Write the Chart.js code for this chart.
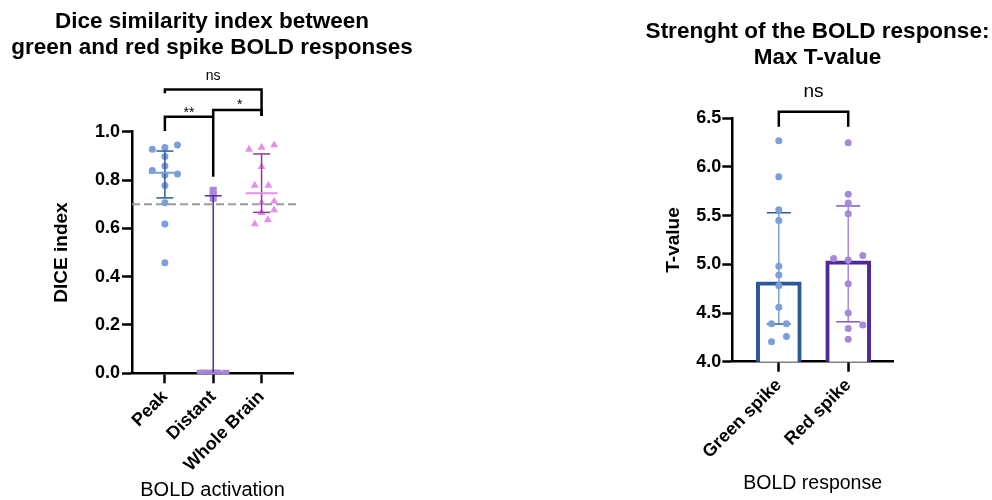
<!DOCTYPE html>
<html>
<head>
<meta charset="utf-8">
<script src="https://cdn.jsdelivr.net/npm/chart.js@4.4.1/dist/chart.umd.min.js"></script>
<style>
  body { margin: 0; background: #fff; }
  #wrap { position: relative; width: 992px; height: 500px; }
  #diceBox { position: absolute; left: 0; top: 0; width: 424px; height: 500px; }
  #tBox { position: absolute; left: 643px; top: 0; width: 349px; height: 500px; }
</style>
</head>
<body>
<div id="wrap">
  <div id="diceBox"><canvas id="diceChart" width="424" height="500"></canvas></div>
  <div id="tBox"><canvas id="tChart" width="349" height="500"></canvas></div>
</div>
<script>
// ---- left panel: DICE index ----
const diceCategories = ['Peak', 'Distant', 'Whole Brain'];
const dicePeak = [0.927, 0.935, 0.945, 0.897, 0.858, 0.839, 0.821, 0.825, 0.777, 0.706, 0.618, 0.458];
const dicePeakJitter = [-0.26, 0, 0.26, 0, 0, -0.26, 0, 0.26, 0, 0, 0, 0];
const diceDistant = [0.758, 0.74, 0.725, 0, 0, 0, 0, 0, 0, 0, 0, 0];
const diceDistantJitter = [0, 0, 0, -0.27, -0.23, -0.19, -0.10, -0.02, 0.02, 0.06, 0.10, 0.26];
const diceWhole = [0.927, 0.935, 0.945, 0.855, 0.778, 0.778, 0.706, 0.712, 0.665, 0.676, 0.635, 0.618];
const diceWholeJitter = [-0.26, 0, 0.26, 0, -0.14, 0.14, 0, 0.26, 0, 0.26, 0.13, -0.14];
const diceMedian = [0.830, 0, 0.745];
const diceQ1 = [0.726, 0, 0.666];
const diceQ3 = [0.920, 0.735, 0.908];
const diceThreshold = 0.7;

// ---- right panel: max T-value ----
const tCategories = ['Green spike', 'Red spike'];
const tGreen = [6.27, 5.90, 5.56, 5.45, 4.98, 4.89, 4.78, 4.56, 4.39, 4.39, 4.205, 4.26];
const tGreenJitter = [0, 0, 0, 0, 0, 0, 0, 0, -0.105, 0.11, -0.105, 0.11];
const tRed = [6.25, 5.72, 5.63, 5.52, 5.06, 5.044, 5.09, 4.80, 4.50, 4.34, 4.376, 4.23];
const tRedJitter = [0, 0, 0, 0, -0.21, 0, 0.21, 0, 0, 0, 0.21, 0];
const tMedian = [4.821, 5.037];
const tQ1 = [4.387, 4.41];
const tQ3 = [5.53, 5.60];

const BLUE = '#7c9fd9', BLUE_DARK = '#2d5a9e';
const PURPLE = '#a689d9', PURPLE_DARK = '#5b2d94';
const PINK = '#e68fe8', MAGENTA = '#97359a';

Chart.defaults.font.family = '"Liberation Sans", Arial, sans-serif';
Chart.defaults.color = '#000';

const toPoints = (vals, jitter, cat) => vals.map((v, i) => ({ x: cat + jitter[i], y: v }));

// median + interquartile range, plus optional horizontal dashed reference
const statsPlugin = {
    id: 'stats',
    beforeDatasetsDraw(chart, args, o) {
        if (o.refLine == null) return;
        const { ctx, chartArea, scales: { y } } = chart;
        const py = y.getPixelForValue(o.refLine);
        ctx.save();
        ctx.strokeStyle = '#9a9a9a';
        ctx.lineWidth = 2;
        ctx.setLineDash([8, 4]);
        ctx.beginPath();
        ctx.moveTo(chartArea.left, py);
        ctx.lineTo(chartArea.right + 3, py);
        ctx.stroke();
        ctx.restore();
    },
    afterDatasetDraw(chart, args, o) {
        if (args.index !== o.afterIndex) return;
        const { ctx, scales: { x, y } } = chart;
        ctx.save();
        o.median.forEach((m, i) => {
            const px = x.getPixelForValue(i);
            ctx.lineWidth = 1.5;
            ctx.strokeStyle = o.lineColors[i];
            ctx.beginPath();
            ctx.moveTo(px, y.getPixelForValue(o.q1[i]));
            ctx.lineTo(px, y.getPixelForValue(o.q3[i]));
            ctx.stroke();
            ctx.strokeStyle = o.capColors[i];
            [o.q1[i], o.q3[i]].forEach(v => {
                const py = y.getPixelForValue(v);
                ctx.beginPath();
                ctx.moveTo(px - o.capWidth / 2, py);
                ctx.lineTo(px + o.capWidth / 2, py);
                ctx.stroke();
            });
            if (o.medianWidth) {
                const py = y.getPixelForValue(m);
                ctx.lineWidth = 2;
                ctx.strokeStyle = o.medianColors[i];
                ctx.beginPath();
                ctx.moveTo(px - o.medianWidth / 2, py);
                ctx.lineTo(px + o.medianWidth / 2, py);
                ctx.stroke();
            }
        });
        ctx.restore();
    },
    afterDraw(chart, args, o) {
        const { ctx, scales: { x, y } } = chart;
        ctx.save();
        ctx.strokeStyle = '#000';
        ctx.lineWidth = 2.5;
        ctx.lineJoin = 'miter';
        (o.brackets || []).forEach(b => {
            ctx.beginPath();
            b.pts.forEach((p, k) => {
                const px = x.getPixelForValue(p[0]), py = y.getPixelForValue(p[1]);
                k ? ctx.lineTo(px, py) : ctx.moveTo(px, py);
            });
            ctx.stroke();
            ctx.fillStyle = '#000';
            ctx.font = b.size + 'px "Liberation Sans", Arial, sans-serif';
            ctx.textAlign = 'center';
            ctx.textBaseline = 'middle';
            ctx.fillText(b.label, x.getPixelForValue(b.lx), y.getPixelForValue(b.ly));
        });
        ctx.restore();
    }
};

function axisStyle(extra) {
    return Object.assign({
        grid: { drawOnChartArea: false, offset: false, tickLength: 10, tickWidth: 2.5, tickColor: '#000' },
        border: { color: '#000', width: 2.5 }
    }, extra);
}

// empty right-hand axis, only keeps room so the title centres like the original
function spacer(w) {
    return {
        position: 'right',
        grid: { display: false, drawTicks: false },
        border: { display: false },
        ticks: { display: false },
        afterFit: s => { s.width = w; }
    };
}

new Chart(document.getElementById('diceChart'), {
    type: 'scatter',
    data: {
        datasets: [
            { label: 'Peak', data: toPoints(dicePeak, dicePeakJitter, 0), pointStyle: 'circle', pointRadius: 3.5, backgroundColor: BLUE, borderWidth: 0, yAxisID: 'y' },
            { label: 'Distant', data: toPoints(diceDistant, diceDistantJitter, 1), pointStyle: 'rect', pointRadius: 5, backgroundColor: PURPLE, borderWidth: 0, yAxisID: 'y' },
            { label: 'Whole Brain', data: toPoints(diceWhole, diceWholeJitter, 2), pointStyle: 'triangle', pointRadius: 4.6, backgroundColor: PINK, borderWidth: 0, yAxisID: 'y' }
        ]
    },
    options: {
        responsive: false,
        animation: false,
        layout: { padding: 0 },
        plugins: {
            legend: { display: false },
            tooltip: { enabled: false },
            title: {
                display: true,
                text: ['Dice similarity index between', 'green and red spike BOLD responses'],
                font: { size: 22.5, weight: 'bold', lineHeight: 1.156 },
                color: '#000',
                padding: { top: 9, bottom: 70.7 }
            },
            stats: {
                refLine: diceThreshold,
                afterIndex: 0,
                median: diceMedian, q1: diceQ1, q3: diceQ3,
                capWidth: 17, medianWidth: 32,
                lineColors: [BLUE_DARK, PURPLE_DARK, MAGENTA],
                capColors: [BLUE_DARK, PURPLE_DARK, MAGENTA],
                medianColors: [BLUE, PURPLE, PINK],
                brackets: [
                    { pts: [[0, 1.159], [0, 1.175], [2, 1.175], [2, 1.065]], label: 'ns', lx: 1, ly: 1.232, size: 14 },
                    { pts: [[1, 0.814], [1, 1.090], [2, 1.090], [2, 1.065]], label: '*', lx: 1.55, ly: 1.112, size: 14 },
                    { pts: [[0, 1.003], [0, 1.062], [1, 1.062]], label: '**', lx: 0.5, ly: 1.077, size: 14 }
                ]
            }
        },
        scales: {
            x: axisStyle({
                type: 'linear',
                offset: false,
                min: -0.68,
                max: 2.65,
                afterBuildTicks: s => { s.ticks = diceCategories.map((c, i) => ({ value: i })); },
                afterFit: s => { s.height = 126.7; },
                ticks: {
                    callback: v => diceCategories[v],
                    font: { size: 18, weight: 'bold' },
                    color: '#000',
                    minRotation: 45,
                    maxRotation: 45,
                    autoSkip: false,
                    padding: 3
                },
                title: { display: true, text: 'BOLD activation', font: { size: 20, lineHeight: 1 }, color: '#000', padding: { top: 0, bottom: 0 } }
            }),
            y: axisStyle({
                min: 0,
                max: 1,
                afterFit: s => { s.width = 132; },
                ticks: { stepSize: 0.2, callback: v => v.toFixed(1), font: { size: 18, weight: 'bold' }, color: '#000', padding: 2 },
                title: { display: true, text: 'DICE index', font: { size: 19, weight: 'bold', lineHeight: 1.2 }, color: '#000', padding: { top: 50.6, bottom: 0 } }
            }),
            y2: spacer(131)
        }
    },
    plugins: [statsPlugin]
});

new Chart(document.getElementById('tChart'), {
    type: 'scatter',
    data: {
        datasets: [
            {
                type: 'bar', label: 'Median', order: 2, yAxisID: 'y',
                data: tMedian.map((v, i) => ({ x: i, y: v })),
                backgroundColor: '#fff',
                borderColor: ['#2c579b', '#4e2a92'],
                borderWidth: 4,
                barThickness: 45,
                grouped: false
            },
            { label: 'Green spike', order: 1, yAxisID: 'y', data: toPoints(tGreen, tGreenJitter, 0), pointRadius: 3.5, backgroundColor: BLUE, borderWidth: 0 },
            { label: 'Red spike', order: 1, yAxisID: 'y', data: toPoints(tRed, tRedJitter, 1), pointRadius: 3.5, backgroundColor: PURPLE, borderWidth: 0 }
        ]
    },
    options: {
        responsive: false,
        animation: false,
        layout: { padding: 0 },
        plugins: {
            legend: { display: false },
            tooltip: { enabled: false },
            title: {
                display: true,
                text: ['Strenght of the BOLD response:', 'Max T-value'],
                font: { size: 22.5, weight: 'bold', lineHeight: 1.156 },
                color: '#000',
                padding: { top: 18.3, bottom: 48 }
            },
            stats: {
                afterIndex: 0,
                median: tMedian, q1: tQ1, q3: tQ3,
                capWidth: 24, medianWidth: 0,
                lineColors: [BLUE, PURPLE],
                capColors: [BLUE_DARK, '#7b5cc4'],
                brackets: [
                    { pts: [[0, 6.413], [0, 6.567], [1, 6.567], [1, 6.413]], label: 'ns', lx: 0.5, ly: 6.769, size: 19 }
                ]
            }
        },
        scales: {
            x: axisStyle({
                type: 'linear',
                offset: false,
                min: -0.67,
                max: 1.645,
                afterBuildTicks: s => { s.ticks = tCategories.map((c, i) => ({ value: i })); },
                afterFit: s => { s.height = 138.3; },
                ticks: {
                    callback: v => tCategories[v],
                    font: { size: 18, weight: 'bold' },
                    color: '#000',
                    minRotation: 45,
                    maxRotation: 45,
                    autoSkip: false,
                    padding: 3
                },
                title: { display: true, text: 'BOLD response', font: { size: 19.5, lineHeight: 1 }, color: '#000', padding: { top: 0, bottom: 6.5 } }
            }),
            y: axisStyle({
                min: 4,
                max: 6.5,
                afterFit: s => { s.width = 89.3; },
                ticks: { stepSize: 0.5, callback: v => v.toFixed(1), font: { size: 18, weight: 'bold' }, color: '#000', padding: 1 },
                title: { display: true, text: 'T-value', font: { size: 19, weight: 'bold', lineHeight: 1.2 }, color: '#000', padding: { top: 19.6, bottom: 0 } }
            }),
            y2: spacer(99)
        }
    },
    plugins: [statsPlugin]
});
</script>
</body>
</html>
